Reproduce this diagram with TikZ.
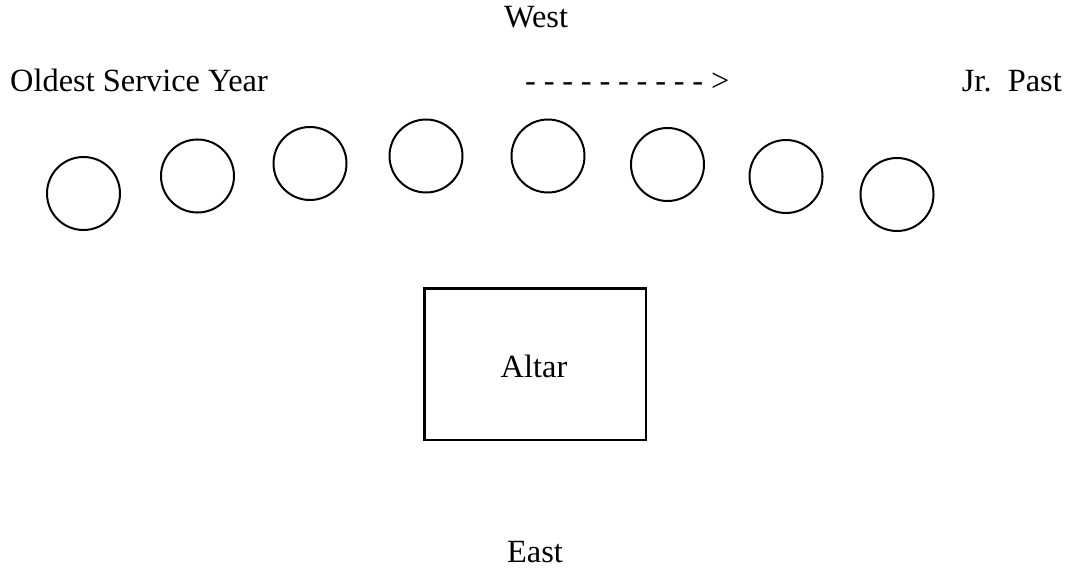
\documentclass[tikz,border=0pt]{standalone}
\usepackage{fontspec}
\setmainfont{Liberation Serif}
\begin{document}
\begin{tikzpicture}[x=1pt,y=-1pt,font=\fontsize{32.4}{38}\selectfont,
	    seat/.style={draw,circle,line width=2pt,minimum size=73pt,inner sep=0pt},
	    altarbox/.style={draw,line width=2.5pt,minimum width=221.5pt,minimum height=151.5pt,inner sep=0pt},
	    lbl/.style={inner sep=0pt}]
	    \useasboundingbox (0,0) rectangle (1067,567);
	    \node[lbl,anchor=base] (west) at (536,28) {West};
	    \node[lbl,anchor=base west] (oldest) at (10,92) {Oldest Service Year};
	    \node[lbl,anchor=base west] (dir) at (525,92) {\spaceskip=7.8pt\relax - - - - - - - - - - >};
	    \node[lbl,anchor=base east] (past) at (1062,92) {Jr.\ \ Past};
	    \node[seat] (s1) at (83.5,193.5) {};
	    \node[seat] (s2) at (197.5,176) {};
	    \node[seat] (s3) at (310,163.5) {};
	    \node[seat] (s4) at (426,156) {};
	    \node[seat] (s5) at (548,156) {};
	    \node[seat] (s6) at (667.5,164.5) {};
	    \node[seat] (s7) at (786,176.5) {};
	    \node[seat] (s8) at (897,194.5) {};
	    \node[altarbox] (altar) at (535,364) {};
	    \node[lbl,anchor=base] (altartxt) at (534,377) {Altar};
	    \node[lbl,anchor=base] (east) at (535,562) {East};
	\end{tikzpicture}
\end{document}
